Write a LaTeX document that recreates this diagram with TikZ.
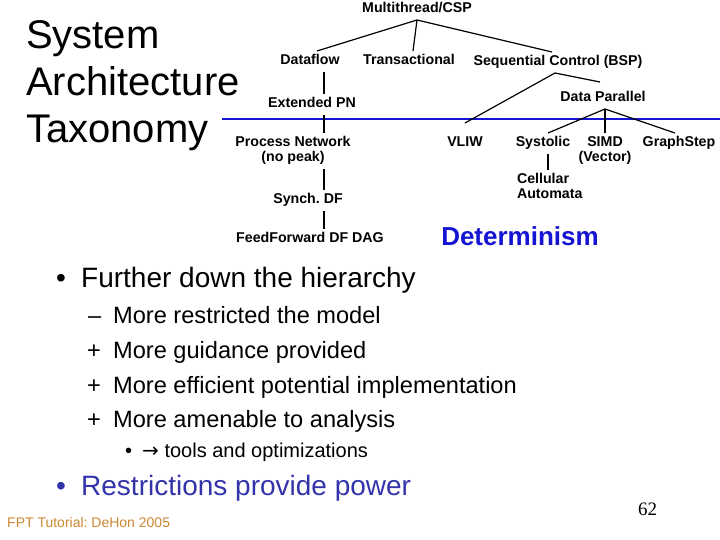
\documentclass[tikz,border=0pt]{standalone}
\usepackage{fontspec}
\setmainfont{Liberation Sans}
\newfontfamily\numfont{Liberation Serif}
\newfontfamily\symfont{DejaVu Sans}
\definecolor{detblue}{RGB}{20,20,210}
\definecolor{restblue}{RGB}{51,51,170}
\definecolor{footbrown}{RGB}{204,136,51}
\frenchspacing
\begin{document}
\begin{tikzpicture}[x=1pt,y=-1pt,
  tlab/.style={font=\fontsize{14.2}{15}\selectfont\bfseries, inner sep=0pt, outer xsep=0pt, outer ysep=4pt, text height=10pt, text depth=3pt, anchor=base},
  tlabm/.style={font=\fontsize{14.2}{15}\selectfont\bfseries, inner sep=0pt, outer xsep=0pt, outer ysep=4pt, align=center, anchor=base},
  tline/.style={line width=1.2pt, black},
  txt/.style={inner sep=0pt, anchor=base west},
  lvlone/.style={txt, font=\fontsize{28}{32}\selectfont},
  lvltwo/.style={txt, font=\fontsize{23.6}{28}\selectfont},
  lvlthree/.style={txt, font=\fontsize{20}{24}\selectfont}]
\useasboundingbox (0,0) rectangle (720,540);

% title (anchor at the baseline of its last line)
\node[txt, align=left, font=\fontsize{40}{47}\selectfont] (title) at (26,143) {System\\Architecture\\Taxonomy};

% separator
\draw[detblue, line width=1.3pt] (222,119) -- (720,119);

% taxonomy tree (multi-line nodes are placed at the baseline of their last line)
\node[tlab] (mt) at (417,13) {Multithread/CSP};
\node[tlab] (df) at (310,65) {Dataflow};
\node[tlab] (tr) at (409,65) {Transactional};
\node[tlab] (sc) at (558,66) {Sequential Control (BSP)};
\node[tlab] (epn) at (312,108) {Extended PN};
\node[tlab] (dp) at (603,102) {Data Parallel};
\node[tlabm] (pn) at (293,162) {Process Network\\(no peak)};
\node[tlab] (vliw) at (465,147) {VLIW};
\node[tlab] (sys) at (543,147) {Systolic};
\node[tlabm] (simd) at (605,162) {SIMD\\(Vector)};
\node[tlab] (gs) at (679,147) {GraphStep};
\node[tlabm, align=left, anchor=base west] (ca) at (517,199) {Cellular\\Automata};
\node[tlab] (sdf) at (308,204) {Synch. DF};
\node[tlab] (ff) at (310,243) {FeedForward DF DAG};

\coordinate (vx) at (324,0);
\coordinate (sx) at (548,0);
\coordinate (dpb) at ([xshift=2pt]dp.south);
\coordinate (scb) at ([xshift=-3pt]sc.south);

\draw[tline] (mt.south) -- ([xshift=7pt]df.north);
\draw[tline] (mt.south) -- ([xshift=4pt]tr.north);
\draw[tline] (mt.south) -- ([xshift=-6pt]sc.north);
\draw[tline] (df.south -| vx) -- (epn.north -| vx);
\draw[tline] (epn.south -| vx) -- (pn.north -| vx);
\draw[tline] (pn.south -| vx) -- (sdf.north -| vx);
\draw[tline] (sdf.south -| vx) -- (ff.north -| vx);
\draw[tline] (scb) -- ([yshift=10pt]vliw.north);
\draw[tline] (scb) -- ([xshift=-3pt,yshift=6pt]dp.north);
\draw[tline] (dpb) -- ([xshift=5pt]sys.north);
\draw[tline] (dpb) -- (simd.north);
\draw[tline] (dpb) -- ([xshift=-4pt]gs.north);
\draw[tline] (sys.south -| sx) -- (ca.north -| sx);

\node[tlab, font=\fontsize{26}{30}\selectfont\bfseries, text=detblue, outer ysep=0pt] (det) at (520,245) {Determinism};

% bullets
\node[lvlone] (b1) at (56,287) {•};
\node[lvlone] (t1) at (81,287) {Further down the hierarchy};
\node[lvltwo] (m1) at (88,323) {–};
\node[lvltwo] (t2) at (113,323) {More restricted the model};
\node[lvltwo] (m2) at (87,358) {+};
\node[lvltwo] (t3) at (113,358) {More guidance provided};
\node[lvltwo] (m3) at (87,393) {+};
\node[lvltwo] (t4) at (113,393) {More efficient potential implementation};
\node[lvltwo] (m4) at (87,427) {+};
\node[lvltwo] (t5) at (113,427) {More amenable to analysis};
\node[lvlthree] (b3) at (125,457) {•};
\node[lvlthree] (t6) at (142,457) {{\symfont\fontsize{20}{22}\selectfont →} tools and optimizations};
\node[lvlone, text=restblue] (b2) at (56,495) {•};
\node[lvlone, text=restblue] (t7) at (81,495) {Restrictions provide power};

% footer
\node[txt, font=\fontsize{14}{16}\selectfont, text=footbrown] (foot) at (7,527) {FPT Tutorial: DeHon 2005};
\node[txt, font=\numfont\fontsize{19}{22}\selectfont] (pg) at (638,515) {62};
\end{tikzpicture}
\end{document}
